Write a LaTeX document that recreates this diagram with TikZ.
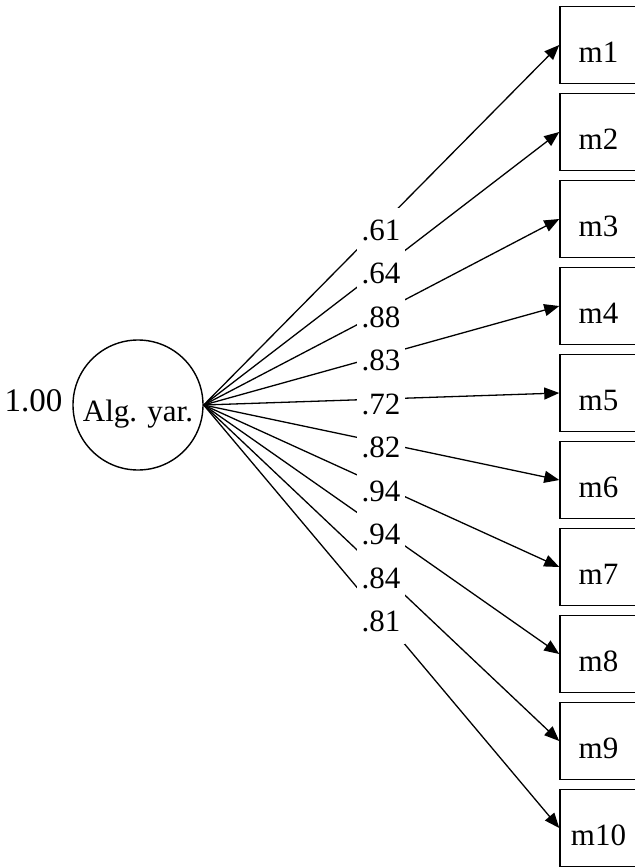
\documentclass[tikz,border=0pt]{standalone}
\usepackage{fontspec}
\setmainfont{Liberation Serif}
\usetikzlibrary{arrows.meta}

\begin{document}
\begin{tikzpicture}[x=0.5pt, y=-0.5pt,
        latent/.style={draw, circle, line width=0.7pt, minimum size=65pt, inner sep=0pt,
            text height=16pt, text depth=0pt, font=\fontsize{15.5}{18}\selectfont},
        item/.style={draw, rectangle, line width=0.75pt, minimum size=38.5pt, inner sep=0pt,
            text height=17pt, text depth=0pt, font=\fontsize{15.5}{18}\selectfont},
        coef/.style={fill=white, minimum width=24pt, minimum height=22pt, inner sep=0pt,
            text height=10pt, text depth=0pt, font=\fontsize{15.5}{18}\selectfont},
        path/.style={line width=0.65pt, -{Triangle[length=7.5pt, width=6pt]}}
    ]
    \useasboundingbox (0,0) rectangle (634,868);

    \node[latent] (alg) at (138,405) {Alg. yar.};
    \node[anchor=base, font=\fontsize{16.5}{18}\selectfont] (var) at (33.5,411) {1.00};

    % indicators
    \foreach \i in {1,...,10} {
        \node[item] (m\i) at (598.5,{45+87*(\i-1)}) {m\i};
        \draw[path] (alg.east) -- (m\i.west);
    }

    % loadings
    \foreach \c [count=\i] in {.61,.64,.88,.83,.72,.82,.94,.94,.84,.81} {
        \node[coef] (l\i) at (381,{230+43.5*(\i-1)}) {\c};
    }

\end{tikzpicture}
\end{document}
